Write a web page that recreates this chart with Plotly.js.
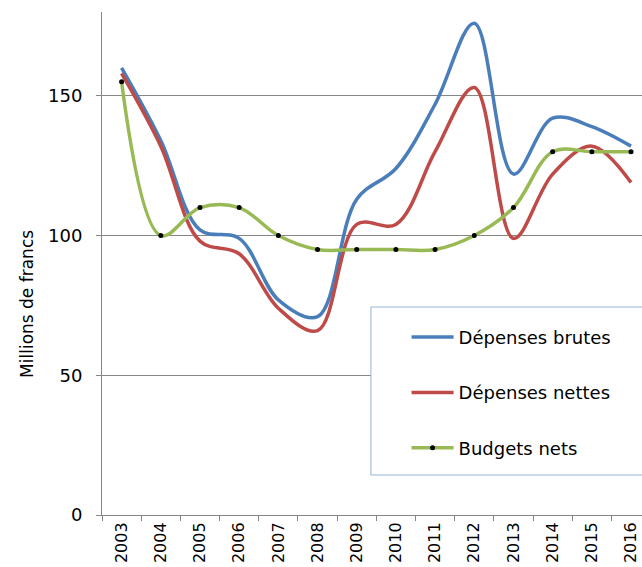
<!DOCTYPE html>
<html><head><meta charset="utf-8">
<script src="https://cdn.plot.ly/plotly-3.0.1.min.js"></script>
<style>html,body{margin:0;padding:0;overflow:hidden;background:#fff}</style>
</head><body><div id="chart" style="width:642px;height:567px"></div>
<script>
const years = ['2003','2004','2005','2006','2007','2008','2009','2010','2011','2012','2013','2014','2015','2016'];
const depensesBrutes = [160,134,102,99,77,71,113,124,147,176,122,142,139,132];
const depensesNettes = [158,132,98,93.5,74,66,104,104,130,153,99,122,132,119];
const budgetsNets = [155,100,110,110,100,95,95,95,95,100,110,130,130,130];
const seriesNames = ['Dépenses brutes','Dépenses nettes','Budgets nets'];
const yTitle = 'Millions de francs';

const F = 'DejaVu Sans, sans-serif';
const traces = [
  {x: years, y: depensesBrutes, name: seriesNames[0], type:'scatter', mode:'lines',
   line:{color:'#4A7EBB', width:3.5, shape:'spline', smoothing:1}, legendgroup:'a'},
  {x: years, y: depensesNettes, name: seriesNames[1], type:'scatter', mode:'lines',
   line:{color:'#BE4B48', width:3.5, shape:'spline', smoothing:1}, legendgroup:'b'},
  {x: years, y: budgetsNets, name: seriesNames[2], type:'scatter', mode:'lines+markers',
   line:{color:'#98B954', width:3.5, shape:'spline', smoothing:1},
   marker:{color:'#000', size:5, line:{width:0}}, legendgroup:'c'}
];
const layout = {
  width:642, height:567,
  margin:{l:102, r:0, t:12, b:52},
  paper_bgcolor:'#fff', plot_bgcolor:'#fff',
  font:{family:F, color:'#000', size:18},
  showlegend:true,
  legend:{x:0.564, y:0.39, xanchor:'left', yanchor:'top', bgcolor:'rgba(0,0,0,0)',
    borderwidth:0, font:{family:F, size:18, color:'#000'}, tracegroupgap:29,
    traceorder:'grouped', itemwidth:42},
  xaxis:{type:'category', range:[-0.5, 13.28], tickangle:-90, tickson:'boundaries',
    ticks:'outside', ticklen:5, tickcolor:'#868686', showline:true, linecolor:'#868686',
    showgrid:false, zeroline:false, automargin:false, tickfont:{family:F, size:16}},
  yaxis:{range:[0,180], tickvals:[0,50,100,150], ticks:'outside', ticklen:5, tickcolor:'#868686',
    showline:true, linecolor:'#868686', showgrid:true, gridcolor:'#868686', gridwidth:1,
    zeroline:false, automargin:false, ticklabelstandoff:10, tickfont:{family:F, size:18}},
  annotations:[{text:yTitle, xref:'paper', yref:'paper', x:-0.139, y:0.4195,
    xanchor:'center', yanchor:'middle', textangle:-90, showarrow:false,
    font:{family:F, size:17, color:'#000'}}],
  shapes:[{type:'rect', xref:'paper', yref:'paper', x0:0.498, x1:1.05, y0:0.0795, y1:0.4135,
    line:{color:'#95B3D7', width:1}, fillcolor:'#fff', layer:'above'}]
};
Plotly.newPlot('chart', traces, layout, {displayModeBar:false, staticPlot:true});
</script></body></html>
